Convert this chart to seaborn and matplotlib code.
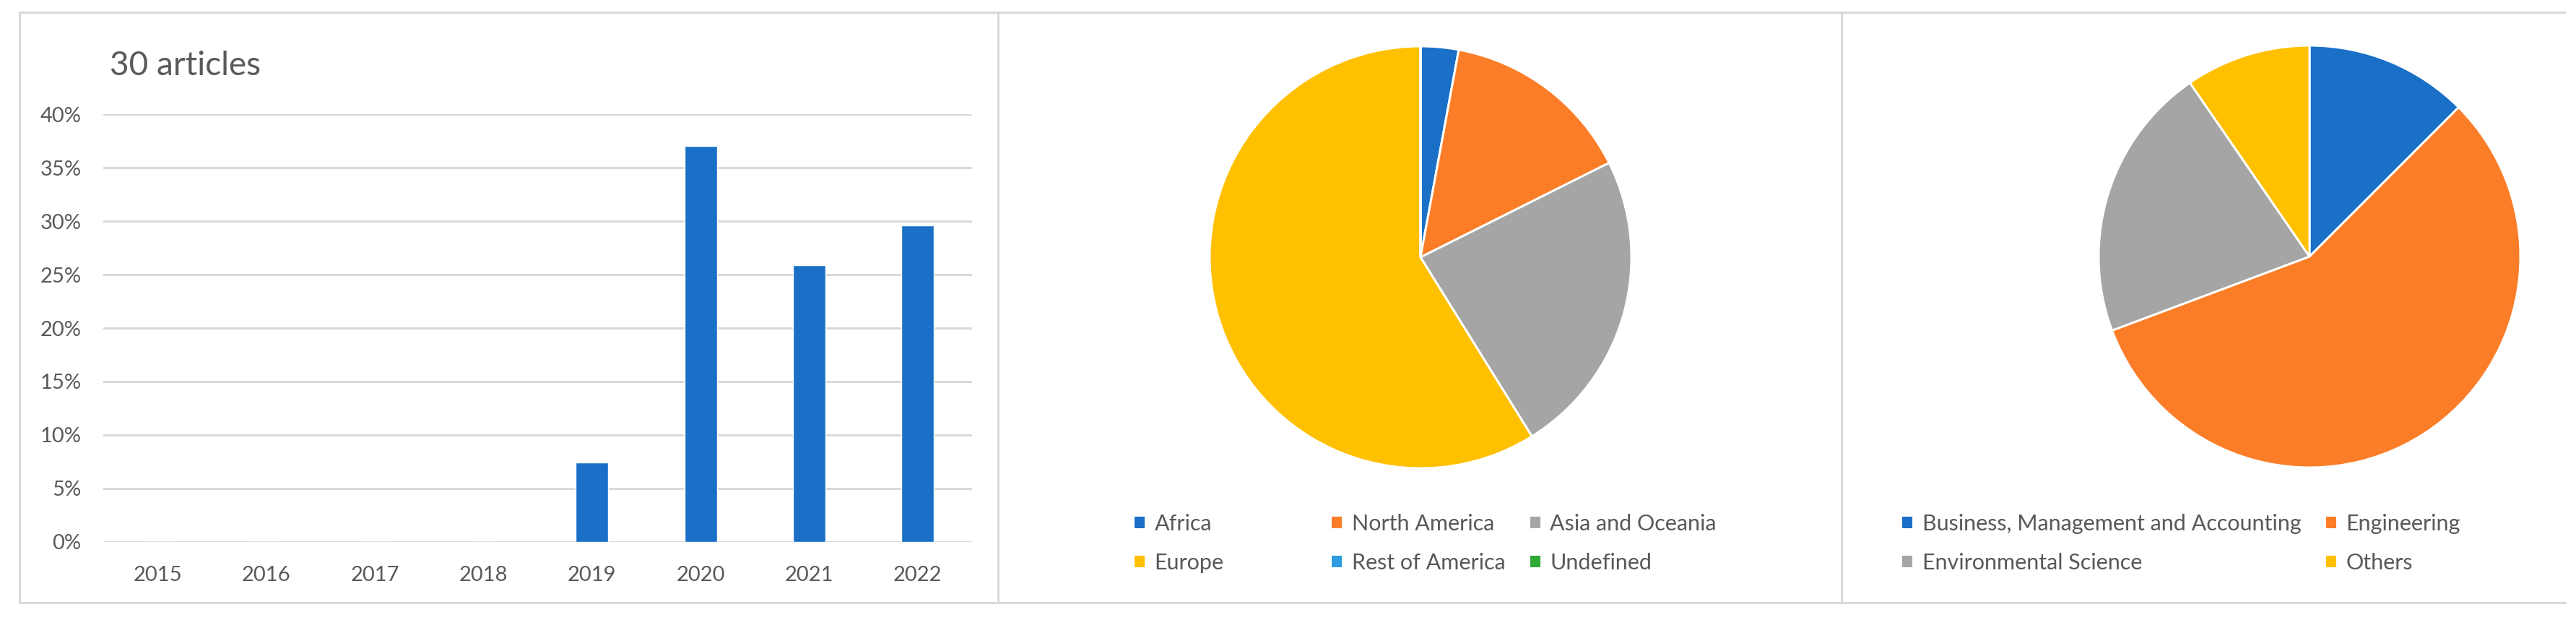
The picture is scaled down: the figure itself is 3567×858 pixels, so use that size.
import matplotlib
matplotlib.use('Agg')
import matplotlib.pyplot as plt
import seaborn as sns
from matplotlib.lines import Line2D
from matplotlib.patches import Patch
from matplotlib.ticker import PercentFormatter

# ---- data ----
years = ['2015', '2016', '2017', '2018', '2019', '2020', '2021', '2022']
year_share = [0.0, 0.0, 0.0, 0.0, 0.074, 0.370, 0.259, 0.296]

regions = ['Africa', 'North America', 'Asia and Oceania', 'Europe',
           'Rest of America', 'Undefined']
region_share = [2.9, 14.7, 23.5, 58.8, 0.0, 0.0]

areas = ['Business, Management and Accounting', 'Engineering',
         'Environmental Science', 'Others']
area_share = [12.5, 56.8, 21.1, 9.6]

BLUE = '#1A6FC6'
ORANGE = '#FB7D27'
GREY = '#A5A5A5'
YELLOW = '#FFC000'
LIGHTBLUE = '#2C9BDF'
GREEN = '#2EA836'
TEXT = '#595959'
LINE = '#D9D9D9'

region_colors = [BLUE, ORANGE, GREY, YELLOW, LIGHTBLUE, GREEN]
area_colors = [BLUE, ORANGE, GREY, YELLOW]

W, H = 3567, 858
DPI = 100
PX = 72 / DPI  # points per pixel

sns.set_style('white')
plt.rcParams['font.family'] = ['Lato', 'DejaVu Sans']
plt.rcParams['text.color'] = TEXT

fig = plt.figure(figsize=(W / DPI, H / DPI), dpi=DPI)


def fx(px):
    return px / W


def fy(py):
    return 1 - py / H


# ---- panel frames ----
for x0, x1, y0, y1 in [(27, 3552, 17, 17), (27, 3552, 834, 834),
                       (27, 27, 17, 834), (1382, 1382, 17, 834),
                       (2550, 2550, 17, 834)]:
    fig.add_artist(Line2D([fx(x0), fx(x1)], [fy(y0), fy(y1)],
                          color=LINE, lw=3 * PX, transform=fig.transFigure))

# ---- bar chart ----
ax = fig.add_axes([fx(143), fy(750), fx(1346 - 143), (750 - 158) / H])
sns.barplot(x=years, y=year_share, color=BLUE, saturation=1, width=0.3, ax=ax)
ax.set_ylim(0, 0.40)
ax.set_xlim(-0.5, len(years) - 0.5)
ax.set_yticks([0, 0.05, 0.10, 0.15, 0.20, 0.25, 0.30, 0.35, 0.40])
ax.yaxis.set_major_formatter(PercentFormatter(xmax=1, decimals=0))
ax.grid(axis='y', color=LINE, lw=3 * PX)
ax.set_axisbelow(True)
sns.despine(ax=ax, left=True, bottom=True)
ax.tick_params(axis='y', length=0, pad=22, labelsize=21, labelcolor=TEXT)
ax.tick_params(axis='x', length=0, pad=24, labelsize=21, labelcolor=TEXT)
ax.set_xlabel('')
ax.set_ylabel('')
fig.text(fx(152), fy(91), '30 articles', fontsize=33, color=TEXT,
         ha='left', va='center')

# ---- pies ----
R = 292


def draw_pie(cx, cy, values, colors):
    pax = fig.add_axes([fx(cx - R), fy(cy + R), 2 * R / W, 2 * R / H])
    pax.pie(values, colors=colors, startangle=90, counterclock=False,
            wedgeprops=dict(edgecolor='white', linewidth=3 * PX))
    pax.set_xlim(-1, 1)
    pax.set_ylim(-1, 1)
    pax.set_aspect('equal')
    pax.axis('off')
    return pax


draw_pie(1967, 356, region_share, region_colors)
draw_pie(3198, 355, area_share, area_colors)


def legend_columns(labels, colors, col_x, ncol):
    # one legend per column so the column gaps follow the reference
    for j, x in enumerate(col_x):
        idx = [i for i in range(len(labels)) if i % ncol == j]
        handles = [Patch(facecolor=colors[i], edgecolor='none') for i in idx]
        fig.legend(handles, [labels[i] for i in idx],
                   loc='center left', bbox_to_anchor=(fx(x), fy(752)),
                   frameon=False, fontsize=22, borderpad=0,
                   borderaxespad=0, handlelength=0.45, handleheight=0.45,
                   handletextpad=0.45, labelspacing=0.85,
                   labelcolor=TEXT)


legend_columns(regions, region_colors, [1571, 1844, 2119], 3)
legend_columns(areas, area_colors, [2634, 3221], 2)

fig.savefig('out.png', dpi=DPI, facecolor='white')
plt.close(fig)
